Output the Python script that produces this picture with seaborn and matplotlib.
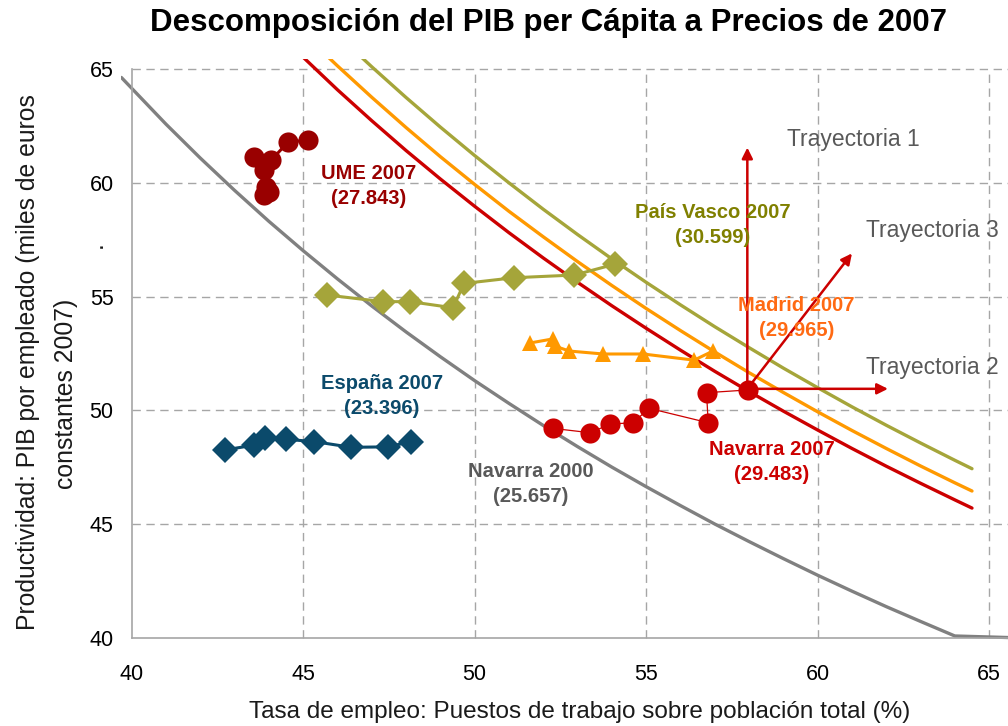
import matplotlib
matplotlib.use("Agg")
import matplotlib.pyplot as plt
import seaborn as sns

# --- iso lines of GDP per capita (productivity x employment rate) ---
nav00_x = [39.7, 41, 42, 43, 44, 45, 46, 47, 48, 49, 50, 51, 52, 53, 54, 55, 56, 57, 58, 59, 60, 61, 62, 63, 64, 65.6]
nav00_y = [64.63, 62.58, 61.09, 59.67, 58.31, 57.02, 55.78, 54.59, 53.45, 52.36, 51.31, 50.31, 49.34, 48.41,
           47.51, 46.65, 45.82, 45.01, 44.24, 43.49, 42.76, 42.06, 41.38, 40.73, 40.09, 40.02]

nav07_x = [45, 46, 47, 48, 49, 50, 51, 52, 53, 54, 55, 56, 57, 58, 59, 60, 61, 62, 63, 64, 64.5]
nav07_y = [65.52, 64.09, 62.73, 61.42, 60.17, 58.97, 57.81, 56.70, 55.63, 54.60, 53.61, 52.65, 51.72, 50.83,
           49.97, 49.14, 48.33, 47.55, 46.80, 46.07, 45.71]

mad07_x = [45.7, 46, 47, 48, 49, 50, 51, 52, 53, 54, 55, 56, 57, 58, 59, 60, 61, 62, 63, 64, 64.5]
mad07_y = [65.57, 65.14, 63.76, 62.43, 61.15, 59.93, 58.75, 57.63, 56.54, 55.49, 54.48, 53.51, 52.57, 51.66,
           50.79, 49.94, 49.12, 48.33, 47.56, 46.82, 46.46]

pv07_x = [46.7, 47, 48, 49, 50, 51, 52, 53, 54, 55, 56, 57, 58, 59, 60, 61, 62, 63, 64, 64.5]
pv07_y = [65.52, 65.10, 63.75, 62.45, 61.20, 60.00, 58.84, 57.73, 56.66, 55.63, 54.64, 53.68, 52.76, 51.86,
          51.00, 50.16, 49.35, 48.57, 47.81, 47.44]

# --- yearly paths of each region ---
ume_x = [43.87, 44.01, 43.92, 43.87, 43.58, 44.07, 44.56, 45.15]
ume_y = [59.46, 59.60, 59.82, 60.56, 61.13, 61.00, 61.79, 61.88]

esp_x = [42.71, 43.58, 43.90, 44.51, 45.33, 46.40, 47.48, 48.14]
esp_y = [48.26, 48.48, 48.77, 48.73, 48.63, 48.38, 48.40, 48.63]

pv_x = [45.70, 47.32, 48.12, 49.37, 49.69, 51.14, 52.91, 54.10]
pv_y = [55.07, 54.78, 54.78, 54.51, 55.58, 55.83, 55.95, 56.43]

mad_x = [51.60, 52.27, 52.33, 52.76, 53.75, 54.91, 56.40, 56.95]
mad_y = [52.96, 53.14, 52.83, 52.61, 52.48, 52.48, 52.21, 52.61]

nav_x = [52.29, 53.37, 53.95, 54.61, 55.09, 56.81, 56.76, 57.97]
nav_y = [49.21, 49.02, 49.40, 49.46, 50.09, 49.46, 50.78, 50.90]

# trajectories starting from Navarra 2007
tray_start = (57.95, 50.95)
tray_ends = [(57.95, 61.55), (62.05, 50.95), (61.0, 56.9)]
tray_names = ["Trayectoria 1", "Trayectoria 2", "Trayectoria 3"]
tray_text_pos = [(59.1, 61.9), (61.4, 51.9), (61.4, 57.9)]

sns.set_style("white")
plt.rcParams['font.family'] = ['Liberation Sans', 'DejaVu Sans']

fig = plt.figure(figsize=(10.08, 7.26), dpi=100)
ax = fig.add_axes([0.1204, 0.1149, 0.8796, 0.8041])

grid_c = '#A6A6A6'
ax.hlines([45, 50, 55, 60, 65], 40, 65.55, colors=grid_c, linestyles=(0, (6, 4)), lw=1, zorder=0)
ax.vlines([45, 50, 55, 60, 65], 40, 65, colors=grid_c, linestyles=(0, (6, 4)), lw=1, zorder=0)

# iso curves
sns.lineplot(x=nav00_x, y=nav00_y, sort=False, estimator=None, color='#808080', lw=2.4, ax=ax)
sns.lineplot(x=nav07_x, y=nav07_y, sort=False, estimator=None, color='#CC0000', lw=2.4, ax=ax)
sns.lineplot(x=mad07_x, y=mad07_y, sort=False, estimator=None, color='#FF9900', lw=2.4, ax=ax)
sns.lineplot(x=pv07_x, y=pv07_y, sort=False, estimator=None, color='#A5A53A', lw=2.4, ax=ax)

# region paths
sns.lineplot(x=pv_x, y=pv_y, sort=False, estimator=None, color='#A5A53A', lw=2.2,
             marker='D', markersize=13, markeredgewidth=0, ax=ax)
sns.lineplot(x=mad_x, y=mad_y, sort=False, estimator=None, color='#FF9900', lw=2.2,
             marker='^', markersize=11, markeredgewidth=0, ax=ax)
sns.lineplot(x=esp_x, y=esp_y, sort=False, estimator=None, color='#0B4A6B', lw=2.2,
             marker='D', markersize=13, markeredgewidth=0, ax=ax)
sns.lineplot(x=ume_x, y=ume_y, sort=False, estimator=None, color='#990000', lw=2.2,
             marker='o', markersize=14.5, markeredgewidth=0, ax=ax)
sns.lineplot(x=nav_x, y=nav_y, sort=False, estimator=None, color='#CC0000', lw=0.9,
             marker='o', markersize=14.5, markeredgewidth=0, ax=ax)

for end in tray_ends:
    ax.annotate('', xy=end, xytext=tray_start,
                arrowprops=dict(arrowstyle='-|>', color='#CC0000', lw=1.8,
                                mutation_scale=16, shrinkA=0, shrinkB=0))
for name, pos in zip(tray_names, tray_text_pos):
    ax.text(pos[0], pos[1], name, fontsize=16.5, color='#595959', ha='left', va='center')

lab_kw = dict(fontsize=14.5, fontweight='bold', ha='center', va='center', linespacing=1.4)
ax.text(46.92, 59.86, "UME 2007\n(27.843)", color='#990000', **lab_kw)
ax.text(56.93, 58.13, "País Vasco 2007\n(30.599)", color='#808000', **lab_kw)
ax.text(59.39, 54.06, "Madrid 2007\n(29.965)", color='#FF6A13', **lab_kw)
ax.text(47.30, 50.63, "España 2007\n(23.396)", color='#0B4A6B', **lab_kw)
ax.text(51.63, 46.77, "Navarra 2000\n(25.657)", color='#595959', **lab_kw)
ax.text(58.66, 47.73, "Navarra 2007\n(29.483)", color='#CC0000', **lab_kw)

ax.set_xlim(39.7, 65.55)
ax.set_ylim(39.8, 65.45)
ax.set_xticks([40, 45, 50, 55, 60, 65])
ax.set_yticks([40, 45, 50, 55, 60, 65])
ax.tick_params(axis='both', direction='out', length=5, width=1, color=grid_c,
               labelsize=15.5, labelcolor='black', pad=8)
ax.tick_params(axis='x', pad=14)
for s in ['top', 'right']:
    ax.spines[s].set_visible(False)
ax.spines['left'].set_position(('data', 40))
ax.spines['left'].set_bounds(40, 65)
ax.spines['bottom'].set_position(('data', 40))
ax.spines['bottom'].set_bounds(40, 65.55)
for s in ['left', 'bottom']:
    ax.spines[s].set_color(grid_c)
    ax.spines[s].set_linewidth(1.2)

fig.text(0.544, 0.969, "Descomposición del PIB per Cápita a Precios de 2007",
         fontsize=22.5, fontweight='bold', color='black', ha='center', va='center')
fig.text(0.575, 0.019, "Tasa de empleo: Puestos de trabajo sobre población total (%)",
         fontsize=17.5, color='#1a1a1a', ha='center', va='center')
fig.text(28 / 1008, 1 - 362 / 726, "Productividad: PIB por empleado (miles de euros",
         fontsize=17.8, color='#1a1a1a', rotation=90, ha='center', va='center')
fig.text(66 / 1008, 1 - 394 / 726, "constantes 2007)",
         fontsize=17.8, color='#1a1a1a', rotation=90, ha='center', va='center')
fig.text(95 / 1008, 1 - 245 / 726, ".", fontsize=17.8, color='#1a1a1a', rotation=90, ha='center', va='center')

fig.savefig('out.png', dpi=100)
